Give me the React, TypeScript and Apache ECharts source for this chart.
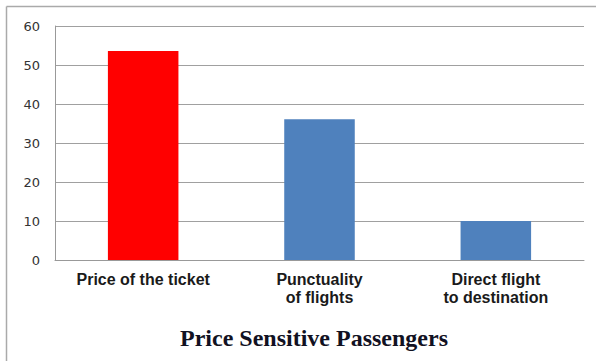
import React, { useEffect, useRef } from "react";
import * as echarts from "echarts";

const categories = ["Price of the ticket", "Punctuality\nof flights", "Direct flight\nto destination"];
const values = [53.6, 36.1, 10];
const barColors = ["#ff0000", "#4f81bd", "#4f81bd"];
const titleText = "Price Sensitive Passengers";

export default function App() {
  const ref = useRef<HTMLDivElement>(null);
  useEffect(() => {
    if (!ref.current) return;
    const chart = echarts.init(ref.current, null, { renderer: "svg" });
    chart.setOption({
      animation: false,
      backgroundColor: "#ffffff",
      grid: { left: 55, right: 12, top: 26, bottom: 101, containLabel: false },
      xAxis: {
        type: "category",
        data: categories,
        axisLine: { show: true, lineStyle: { color: "#999999", width: 1 } },
        axisTick: { show: false },
        axisLabel: {
          interval: 0,
          margin: 10,
          color: "#1a1a1a",
          fontFamily: "Liberation Sans, Arial, sans-serif",
          fontWeight: "bold",
          fontSize: 16,
          lineHeight: 18,
          verticalAlign: "top",
        },
      },
      yAxis: {
        type: "value",
        min: 0,
        max: 60,
        interval: 10,
        axisLine: { show: true, lineStyle: { color: "#999999", width: 1 } },
        axisTick: { show: false },
        axisLabel: {
          margin: 15,
          color: "#333333",
          fontFamily: "DejaVu Sans, Verdana, sans-serif",
          fontSize: 13,
        },
        splitLine: { show: true, lineStyle: { color: "#a0a0a0", width: 1 } },
      },
      series: [
        {
          type: "bar",
          data: values.map((v, i) => ({ value: v, itemStyle: { color: barColors[i] } })),
          barWidth: "40%",
        },
      ],
      graphic: [
        { type: "line", shape: { x1: 6.5, y1: 6.5, x2: 596, y2: 6.5 }, style: { stroke: "#aaaaaa", lineWidth: 1.5 }, silent: true },
        { type: "line", shape: { x1: 6.5, y1: 6.5, x2: 6.5, y2: 361 }, style: { stroke: "#aaaaaa", lineWidth: 1.5 }, silent: true },
        {
          type: "text",
          x: 314,
          y: 338,
          style: {
            text: titleText,
            fill: "#111122",
            font: "bold 24px 'Liberation Serif', 'Times New Roman', serif",
            textAlign: "center",
            textVerticalAlign: "middle",
          },
        },
      ],
    });
    return () => chart.dispose();
  }, []);
  return <div ref={ref} style={{ position: "fixed", left: 0, top: 0, width: 596, height: 361 }} />;
}
